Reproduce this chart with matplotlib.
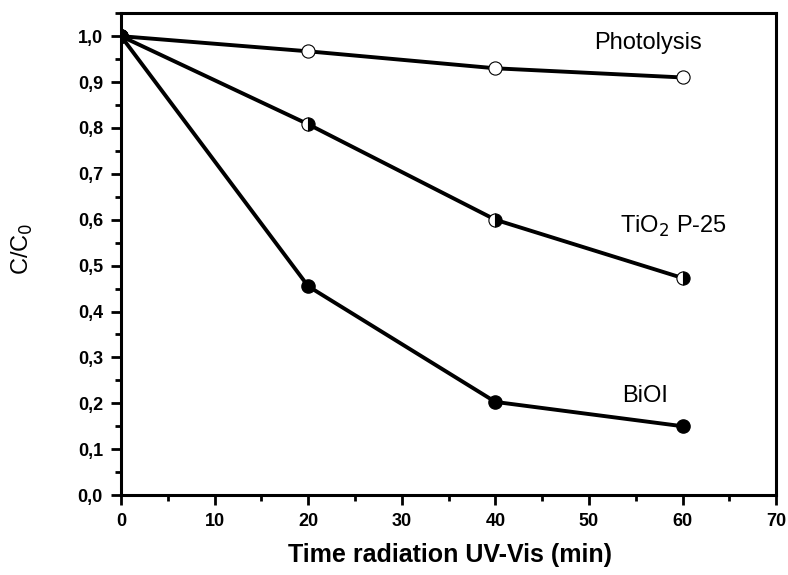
import numpy as np
import matplotlib.pyplot as plt
from matplotlib.ticker import MultipleLocator

plt.rcParams['font.family'] = ['Liberation Sans', 'DejaVu Sans']

time = [0, 20, 40, 60]
photolysis = [1.0, 0.967, 0.93, 0.91]
tio2 = [1.0, 0.808, 0.60, 0.473]
bioi = [1.0, 0.455, 0.203, 0.15]

fig = plt.figure(figsize=(7.88, 5.75), dpi=100)
ax = fig.add_axes([0.1536, 0.139, 0.8314, 0.838])

ax.plot(time, photolysis, color='black', lw=2.8, marker='o', ms=9.5,
        mfc='white', mec='black', mew=0.8, zorder=3)
ax.plot(time, tio2, color='black', lw=2.8, marker='o', ms=9.5,
        fillstyle='right', mfc='black', mfcalt='white', mec='black', mew=0.8, zorder=3)
ax.plot(time, bioi, color='black', lw=2.8, marker='o', ms=9.5,
        mfc='black', mec='black', zorder=3)
# start point drawn filled
ax.plot(time[0], bioi[0], 'o', color='black', ms=9.5, zorder=4)

ax.text(56.3, 0.985, 'Photolysis', fontsize=17, ha='center', va='center')
ax.text(59.0, 0.585, 'TiO$_2$ P-25', fontsize=17, ha='center', va='center')
ax.text(56.0, 0.215, 'BiOI', fontsize=17, ha='center', va='center')

ax.set_xlim(0, 70)
ax.set_ylim(0, 1.05)
ax.xaxis.set_major_locator(MultipleLocator(10))
ax.xaxis.set_minor_locator(MultipleLocator(5))
ax.yaxis.set_major_locator(MultipleLocator(0.1))
ax.yaxis.set_minor_locator(MultipleLocator(0.05))
ax.yaxis.set_major_formatter(plt.FuncFormatter(lambda v, p: f'{v:.1f}'.replace('.', ',')))

ax.tick_params(which='both', direction='out', top=False, right=False, width=2)
ax.tick_params(which='major', length=7, labelsize=13, pad=6)
ax.tick_params(which='minor', length=4)
for lab in ax.get_xticklabels() + ax.get_yticklabels():
    lab.set_fontweight('bold')
for s in ax.spines.values():
    s.set_linewidth(2.2)

ax.set_xlabel('Time radiation UV-Vis (min)', fontsize=18, fontweight='bold')
ax.set_ylabel('C/C$_0$', fontsize=17)
ax.xaxis.set_label_coords(0.502, -0.10)
ax.yaxis.set_label_coords(-0.132, 0.512)

fig.savefig('out.png', dpi=100)
